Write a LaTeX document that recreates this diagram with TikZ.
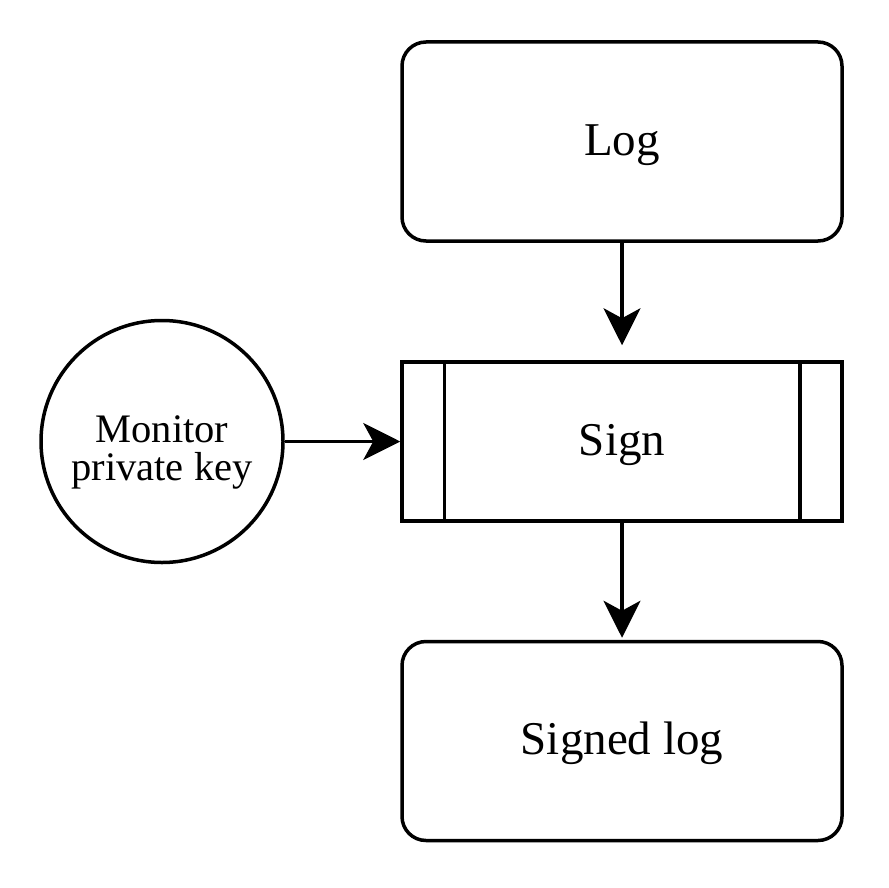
\documentclass[tikz,border=0pt]{standalone}
\usepackage{fontspec}
\setmainfont{Liberation Serif}
\usetikzlibrary{arrows.meta}
\begin{document}
\begin{tikzpicture}[x=1pt,y=-1pt,
  big/.style={font=\fontsize{47}{52}\selectfont,text height=27pt,text depth=0pt},
  box/.style={draw,line width=3.5pt,rounded corners=24pt,minimum width=440pt,minimum height=199pt,inner sep=0pt,big},
  proc/.style={draw,line width=3.5pt,minimum width=440pt,minimum height=159pt,inner sep=0pt,big},
  keyc/.style={draw,circle,line width=3.5pt,minimum size=242pt,inner sep=0pt},
  keytxt/.style={align=center,inner sep=0pt,font=\fontsize{40.5}{38}\selectfont},
  arr/.style={line width=3.5pt,-{Stealth[length=37pt,width=37pt,inset=10pt]}}]
\useasboundingbox (0,0) rectangle (888,888);
\node[box] (log) at (622,141.5) {Log};
\node[proc] (sign) at (622,441.5) {Sign};
\draw[line width=3.5pt] ([xshift=44pt]sign.north west) -- ([xshift=44pt]sign.south west);
\draw[line width=3.5pt] ([xshift=-44pt]sign.north east) -- ([xshift=-44pt]sign.south east);
\node[box] (slog) at (622,741) {Signed log};
\node[keyc] (key) at (162,441.5) {};
\node[keytxt,anchor=base] (keylabel) at (162,480) {Monitor\\private key};
\draw[arr] (log.south) -- ([yshift=15pt]sign.north);
\draw[arr] (key.east) -- (sign.west);
\draw[arr] (sign.south) -- ([yshift=2pt]slog.north);
\end{tikzpicture}
\end{document}
